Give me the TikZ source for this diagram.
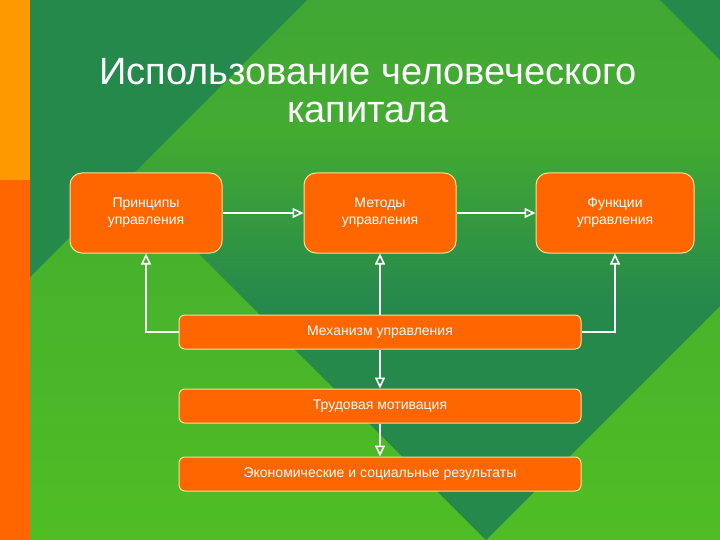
\documentclass[tikz,border=0pt]{standalone}
\usepackage{fontspec}
\setmainfont{Liberation Sans}
\usetikzlibrary{arrows.meta}
\definecolor{slideorange}{RGB}{255,102,0}
\definecolor{slideyellow}{RGB}{255,153,0}
\definecolor{darkgreen}{RGB}{38,137,76}
\definecolor{lightgreen}{RGB}{64,166,52}
\definecolor{limegreen}{RGB}{78,190,36}
\definecolor{boxedge}{RGB}{255,222,150}
\tikzset{
    flow arrow/.style={
        draw=white,
        line width=2.4pt,
        -{Triangle[open, length=11pt, width=10pt, line width=1.6pt]}
    }
}

\begin{document}
\begin{tikzpicture}[x=1pt, y=-1pt]

    \tikzstyle{bigbox} = [
        rectangle,
        rounded corners=12pt,
        draw=boxedge,
        line width=1pt,
        fill=slideorange,
        text=white,
        minimum width=152pt,
        minimum height=80pt,
        align=center,
        font=\fontsize{14}{17}\selectfont
    ]
    \tikzstyle{barbox} = [
        rectangle,
        rounded corners=6pt,
        draw=boxedge,
        line width=1pt,
        fill=slideorange,
        text=white,
        minimum width=402pt,
        minimum height=34pt,
        font=\fontsize{14}{17}\selectfont
    ]
    \tikzstyle{title} = [
        text=white,
        anchor=base,
        font=\fontsize{38}{40}\selectfont
    ]

    % Фон
    \useasboundingbox (0,0) rectangle (720,540);
    \begin{scope}
        \clip (0,0) rectangle (720,540);
        \shade[top color=lightgreen, bottom color=limegreen] (30,0) rectangle (720,540);
        \shade[top color=lightgreen!76!limegreen, bottom color=darkgreen]
            (75,130) -- (896,130) -- (726,300) -- (245,300) -- cycle;
        \fill[darkgreen] (245,300) -- (726,300) -- (486,540) -- cycle;
        \fill[darkgreen] (30,0) -- (307,0) -- (30,277) -- cycle;
        \fill[darkgreen] (660,0) -- (720,0) -- (720,60) -- cycle;
        \fill[slideyellow] (0,0) rectangle (30,180);
        \fill[slideorange] (0,180) rectangle (30,540);
    \end{scope}

    % Заголовок
    \node[title] (title) at (368,85) {Использование человеческого};
    \node[title] (title2) at (368,123) {капитала};

    % Блоки
    \node[bigbox] (principles) at (146,213) {Принципы\\управления};
    \node[bigbox] (methods) at (380,213) {Методы\\управления};
    \node[bigbox, minimum width=158pt] (functions) at (615,213) {Функции\\управления};
    \node[barbox] (mechanism) at (380,332) {Механизм управления};
    \node[barbox] (motivation) at (380,406) {Трудовая мотивация};
    \node[barbox] (results) at (380,474) {Экономические и социальные результаты};

    % Стрелки
    \draw[flow arrow] (principles) -- (methods);
    \draw[flow arrow] (methods) -- (functions);
    \draw[flow arrow] (mechanism) -- (methods);
    \draw[flow arrow] (mechanism.west) -| (principles.south);
    \draw[flow arrow] (mechanism.east) -| (functions.south);
    \draw[flow arrow] (mechanism) -- (motivation);
    \draw[flow arrow] (motivation) -- (results);

\end{tikzpicture}
\end{document}
